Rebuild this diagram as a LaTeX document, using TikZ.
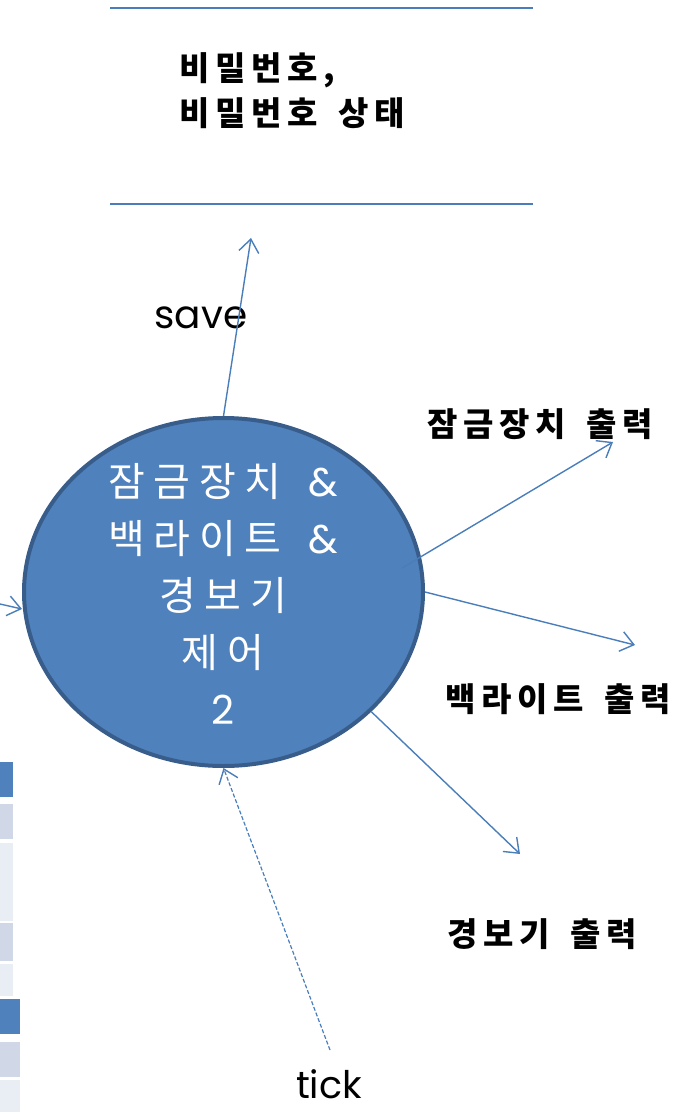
\documentclass[tikz,border=0pt]{standalone}
\usepackage{fontspec}
\setmainfont{Poppins}
\newfontfamily\krw[LetterSpace=22,WordSpace=1.5]{Noto Sans CJK KR}
\newfontfamily\krb[LetterSpace=17,WordSpace=1.6]{Noto Sans CJK KR}
\usetikzlibrary{arrows.meta,shapes.geometric}
\definecolor{fillblue}{HTML}{4F81BD}
\definecolor{edgeblue}{HTML}{385D8A}
\definecolor{lineblue}{HTML}{4A7EBB}
\definecolor{tabA}{HTML}{D0D8E8}
\definecolor{tabB}{HTML}{E9EDF4}
\begin{document}
\begin{tikzpicture}[x=1pt,y=-1pt,
  flow/.style={draw=lineblue, line width=1.4pt, -{Straight Barb[length=13pt,width=20pt,line width=1.4pt]}},
  tickflow/.style={flow, line width=1.2pt, dash pattern=on 4pt off 2pt},
  lbl/.style={font=\krb\bfseries\fontsize{33}{45}\selectfont, text=black, inner sep=0pt},
  latin/.style={font=\rmfamily\fontsize{39}{40}\selectfont, text=black, inner sep=0pt, text depth=0pt},
  storeline/.style={draw=lineblue, line width=2pt},
]
\useasboundingbox (0,0) rectangle (679,1112);
% left table fragments
\fill[fillblue] (0,762) rectangle (13,797);
\fill[tabA] (0,804) rectangle (13,839);
\fill[tabB] (0,843) rectangle (13,921);
\fill[tabA] (0,923) rectangle (13,961);
\fill[tabB] (0,964) rectangle (13,996);
\fill[fillblue] (0,999) rectangle (20,1034);
\fill[tabA] (0,1042) rectangle (20,1077);
\fill[tabB] (0,1080) rectangle (20,1112);
% data store
\draw[storeline] (110,8) -- (533,8);
\draw[storeline] (110,204) -- (533,204);
\node[lbl, anchor=north west, align=left] (store) at (179,52) {비밀번호,\\비밀번호 상태};
% process
\node[ellipse, draw=edgeblue, line width=4pt, fill=fillblue, minimum width=399pt, minimum height=348pt, inner sep=0pt] (proc) at (223.5,592) {};
\node[align=center, text=white, font=\krw\fontsize{40}{57}\selectfont, inner sep=0pt] (proctext) at (223,594)
  {잠금장치 {\rmfamily\&}\\백라이트 {\rmfamily\&}\\경보기\\제어\\{\rmfamily 2}};
% coordinates
\coordinate (saveend) at (251,238);
\coordinate (lockstart) at (402,568);
\coordinate (lockend) at (613,442);
\coordinate (backend) at (635,645);
\coordinate (alarmend) at (520,854);
\coordinate (tickstart) at (330,1050);
\coordinate (instart) at (0,604);
% labels
\node[latin, anchor=base] (savelbl) at (201,328) {save};
\node[latin, anchor=base, font=\rmfamily\fontsize{38}{40}\selectfont] (ticklbl) at (329,1098) {tick};
\node[lbl] (locklbl) at (540,424) {잠금장치 출력};
\node[lbl] (backlbl) at (558,699) {백라이트 출력};
\node[lbl] (alarmlbl) at (542,934) {경보기 출력};
% connectors
\draw[flow] (proc.north) -- (saveend);
\draw[flow] (lockstart) -- (lockend);
\draw[flow] (proc.east) -- (backend);
\draw[flow] (proc.-39.6) -- (alarmend);
\draw[tickflow] (tickstart) -- (proc.south);
\draw[flow] (instart) -- (proc.west |- 0,609);
\end{tikzpicture}
\end{document}
